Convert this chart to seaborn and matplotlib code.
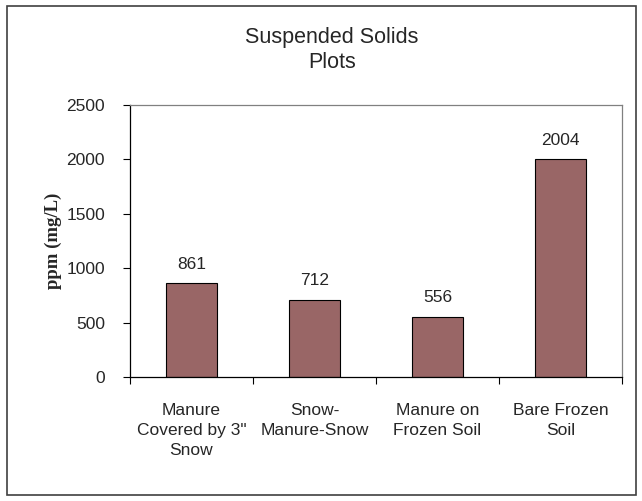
import matplotlib
matplotlib.use("Agg")
import matplotlib.pyplot as plt
import seaborn as sns
import pandas as pd
from matplotlib.patches import Rectangle

categories = ["Manure\nCovered by 3\"\nSnow", "Snow-\nManure-Snow", "Manure on\nFrozen Soil", "Bare Frozen\nSoil"]
values = [861, 712, 556, 2004]
yticks = [0, 500, 1000, 1500, 2000, 2500]

sns.set_theme(style="white")
plt.rcParams['font.family'] = ['Liberation Sans', 'DejaVu Sans']

df = pd.DataFrame({"cat": categories, "val": values})

fig = plt.figure(figsize=(6.42, 5.01), dpi=100)
fig.patch.set_facecolor("white")
ax = fig.add_axes([130/642, 1-377/501, 492/642, 272/501])

sns.barplot(data=df, x="cat", y="val", color="#996666", saturation=1,
            width=0.41, edgecolor="black", linewidth=0.8, ax=ax)

ax.set_ylim(0, 2500)
ax.set_xlim(-0.5, 3.5)
ax.set_yticks(yticks)
ax.set_yticklabels([str(t) for t in yticks], fontsize=12.5)
ax.set_xticks([-0.5, 0.5, 1.5, 2.5, 3.5])
ax.set_xticklabels([])
ax.set_xticks(range(4), minor=True)
ax.set_xticklabels(categories, minor=True, fontsize=12.5, linespacing=1.4)
ax.tick_params(axis="x", which="minor", length=0, pad=19)
ax.tick_params(axis="x", which="major", direction="out", length=5, width=0.8, color="black", bottom=True)
ax.tick_params(axis="y", direction="out", length=5, width=0.8, color="black", left=True, pad=13)
ax.set_xlabel("")
ax.set_ylabel("ppm (mg/L)", family="Liberation Serif", fontweight="bold", fontsize=13.5, labelpad=3)

for sp in ["left", "bottom"]:
    ax.spines[sp].set_color("black")
    ax.spines[sp].set_linewidth(0.9)
for sp in ["top", "right"]:
    ax.spines[sp].set_color("#808080")
    ax.spines[sp].set_linewidth(0.9)

for i, v in enumerate(values):
    ax.annotate(str(v), (i, v), xytext=(0, 8), textcoords="offset points",
                ha="center", va="bottom", fontsize=12.5)

fig.text(0.517, 1-50/501, "Suspended Solids\nPlots", ha="center", va="center",
         fontsize=15.5, linespacing=1.3)

fig.patches.append(Rectangle((7/642, 1-495/501), 629/642, 489/501, transform=fig.transFigure,
                             fill=False, edgecolor="#404040", linewidth=1.2))

fig.savefig("out.png", dpi=100, facecolor="white")
